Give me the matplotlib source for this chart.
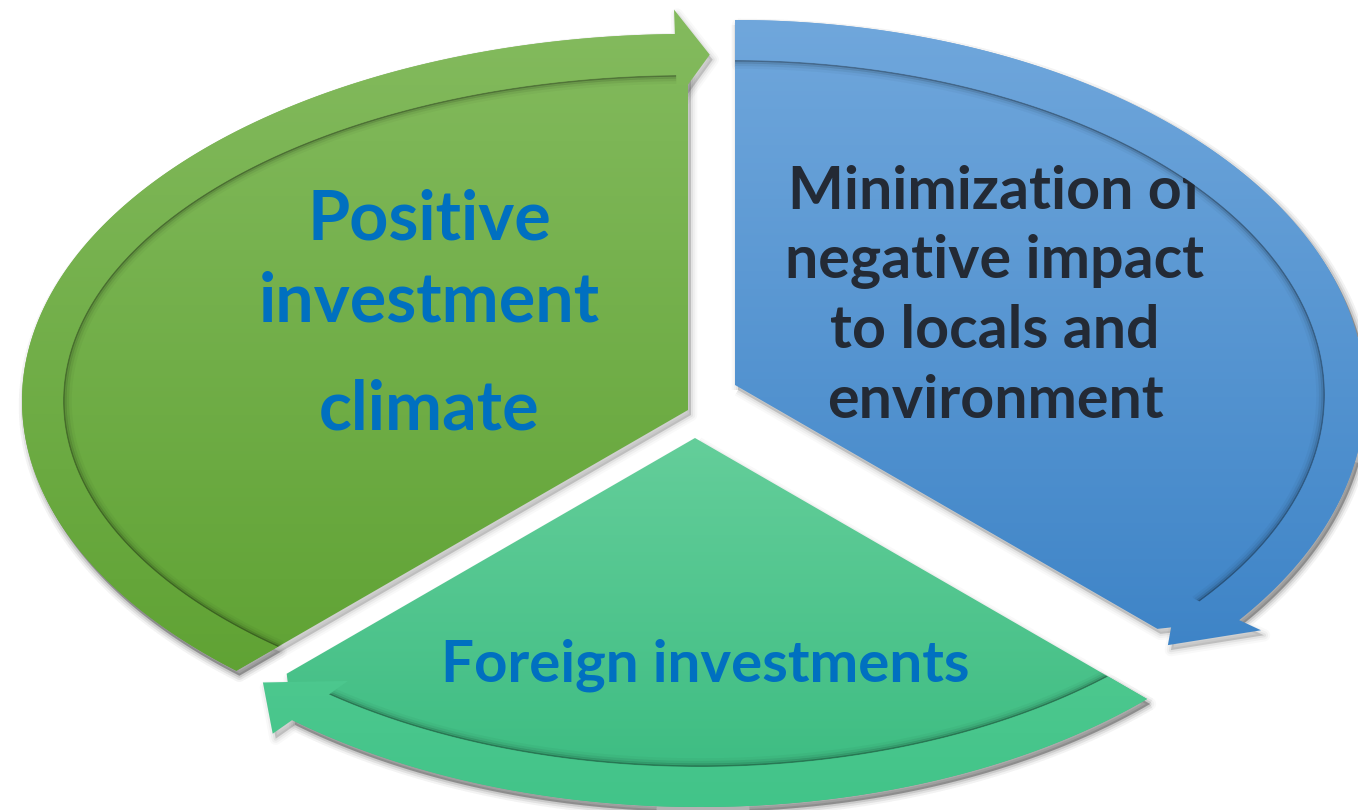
import numpy as np
import matplotlib
matplotlib.use("Agg")
import matplotlib.pyplot as plt
from matplotlib.patches import Polygon
from matplotlib.colors import to_rgb

# ---------------- content ----------------
labels = [
    ["Positive", "investment", "climate"],
    ["Minimization of", "negative impact", "to locals and", "environment"],
    ["Foreign investments"],
]
label_colors = ["#0070C0", "#232A35", "#0070C0"]
label_centers_x = [429, 995, 705]
label_baselines = [[239, 321, 430], [209, 278, 348, 418], [682]]
label_fit_width = [342, 420, 530]   # width of widest line (px)

fill_top = ["#83BA5D", "#70A7DC", "#64CE9A"]
fill_bottom = ["#5FA233", "#3E84C7", "#3ABB80"]
band_top = ["#83BA5D", "#70A7DC", "#60CE98"]
band_bottom = ["#5FA233", "#3E84C7", "#42C489"]

# ---------------- geometry of the cycle ----------------
sectors = [
    dict(A=(688, 410), C=(688, 401), rx=666, ry=367, w=41,
         ts=210, th=92.0, tt=86.5, te=90, hw=45, gy=(30, 690)),
    dict(A=(735, 385), C=(735, 395), rx=630, ry=375, w=40,
         ts=90, th=-25, tt=-31, te=-30, hw=46, gy=(18, 650)),
    dict(A=(695, 438), C=(700, 440), rx=631, ry=367, w=40,
         ts=-30, th=-145, tt=-150.5, te=-150, hw=46, gy=(438, 807)),
]

W, H = 1358, 810
fig = plt.figure(figsize=(W / 100, H / 100), dpi=100)
ax = fig.add_axes([0, 0, 1, 1])
ax.set_xlim(0, W)
ax.set_ylim(H, 0)
ax.axis("off")


def ray(A, C, rx, ry, th):
    d = np.array([np.cos(np.radians(th)), -np.sin(np.radians(th))])
    p = np.array(A, float) - np.array(C, float)
    a = (d[0] / rx) ** 2 + (d[1] / ry) ** 2
    b = 2 * (p[0] * d[0] / rx ** 2 + p[1] * d[1] / ry ** 2)
    c = (p[0] / rx) ** 2 + (p[1] / ry) ** 2 - 1
    t = (-b + np.sqrt(b * b - 4 * a * c)) / (2 * a)
    return np.array(A, float) + t * d


def arc(A, C, rx, ry, t0, t1, n=240):
    return np.array([ray(A, C, rx, ry, t) for t in np.linspace(t0, t1, n)])


def grad_fill(poly_pts, c0, c1, y0, y1, z):
    patch = Polygon(poly_pts, closed=True, fc="none", ec="none", zorder=z)
    ax.add_patch(patch)
    n = 256
    c0 = np.array(to_rgb(c0))
    c1 = np.array(to_rgb(c1))
    ys = poly_pts[:, 1]
    top, bot = min(ys.min(), y0), max(ys.max(), y1)
    yy = np.linspace(top, bot, n)
    ff = np.clip((yy - y0) / (y1 - y0), 0, 1)[:, None]
    img = (c0 * (1 - ff) + c1 * ff)[:, None, :]
    im = ax.imshow(img, extent=(0, W, bot, top), origin="upper",
                   aspect="auto", zorder=z, interpolation="bilinear")
    im.set_clip_path(patch)


shapes = []
for s in sectors:
    A, C, rx, ry, w = s["A"], s["C"], s["rx"], s["ry"], s["w"]
    outer = arc(A, C, rx, ry, s["ts"], s["th"])
    inner = arc(A, C, rx - w, ry - w, s["ts"], s["th"])
    mid_h = ray(A, C, rx - w / 2, ry - w / 2, s["th"])
    tip = ray(A, C, rx - w / 2, ry - w / 2, s["tt"])
    nvec = outer[-1] - inner[-1]
    nvec = nvec / np.linalg.norm(nvec)
    base_out = mid_h + s["hw"] * nvec
    base_in = mid_h - s["hw"] * nvec
    band = np.vstack([outer, base_out, tip, base_in, inner[::-1]])
    end_inner = ray(A, C, rx - w, ry - w, s["te"])
    body = np.vstack([np.array(A, float), outer, end_inner])
    shapes.append((body, band, inner))

# soft drop shadows
for body, band, inner in shapes:
    for pts in (body, band):
        off = pts + np.array([3.0, 5.0])
        for lw, al in [(9, 0.025), (6, 0.035), (3, 0.05)]:
            ax.add_patch(Polygon(off, closed=True, fc="none", ec="black",
                                 lw=lw, alpha=al, joinstyle="round", zorder=0.5))
        ax.add_patch(Polygon(off, closed=True, fc="black", ec="none",
                             alpha=0.16, zorder=0.5))

# bodies
for i, (body, band, inner) in enumerate(shapes):
    gy = sectors[i]["gy"]
    grad_fill(body, fill_top[i], fill_bottom[i], gy[0], gy[1], 1)

# shadow of band on body
for i, (body, band, inner) in enumerate(shapes):
    A = np.array(sectors[i]["A"], float)
    v = A - inner
    v = v / np.linalg.norm(v, axis=1)[:, None]
    for k, al, lw in [(0.8, 0.30, 1.2), (2.2, 0.12, 2.0), (4.0, 0.06, 3.0),
                      (6.0, 0.03, 4.0)]:
        pts = inner + k * v
        ax.plot(pts[:, 0], pts[:, 1], color="black", alpha=al, lw=lw,
                solid_capstyle="butt", zorder=2)

# text
fig.canvas.draw()
renderer = fig.canvas.get_renderer()
for i, lines in enumerate(labels):
    fs = 50
    texts = []
    for line, yb in zip(lines, label_baselines[i]):
        t = ax.text(label_centers_x[i], yb, line, ha="center", va="baseline",
                    fontsize=fs, fontfamily="Lato", fontweight="bold",
                    color=label_colors[i], zorder=2.5)
        texts.append(t)
    wmax = max(t.get_window_extent(renderer).width for t in texts)
    new_fs = fs * label_fit_width[i] / wmax
    for t in texts:
        t.set_fontsize(new_fs)

# bands (drawn above text)
for i, (body, band, inner) in enumerate(shapes):
    gy = sectors[i]["gy"]
    grad_fill(band, band_top[i], band_bottom[i], gy[0], gy[1], 3)

ax.set_xlim(0, W)
ax.set_ylim(H, 0)
fig.savefig("out.png", dpi=100, facecolor="white")
